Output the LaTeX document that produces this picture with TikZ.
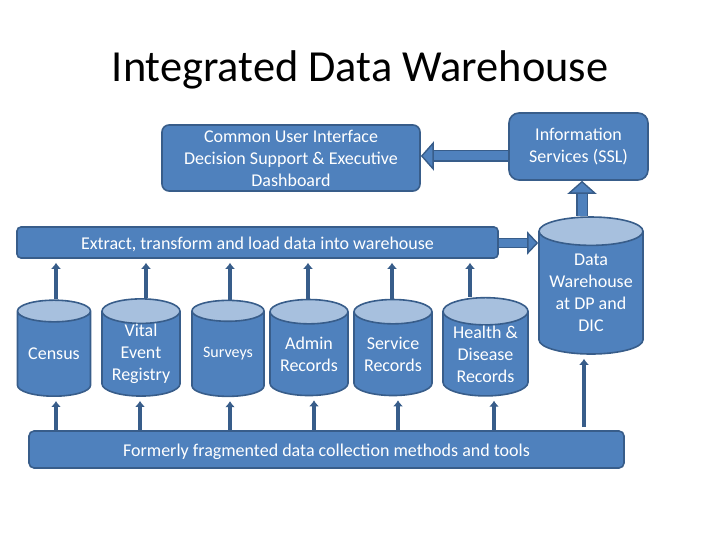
\documentclass[tikz,border=0pt]{standalone}
\usepackage{fontspec}
\setmainfont{Carlito}
\usetikzlibrary{positioning,shapes.geometric,arrows.meta}
\definecolor{mainblue}{HTML}{4F81BD}
\definecolor{darkblue}{HTML}{385D8A}
\definecolor{topblue}{HTML}{A7C0DE}

\begin{document}
\begin{tikzpicture}[
  x=1pt, y=-1pt,
  font=\fontsize{18}{22}\selectfont,
  panel/.style={rectangle, draw=darkblue, line width=1.6pt, rounded corners=7pt, fill=mainblue, text=white, align=center, inner sep=0pt, execute at begin node={\rule{0pt}{17pt}}},
  store/.style={cylinder, shape border rotate=90, draw=darkblue, line width=1.6pt, cylinder uses custom fill, cylinder body fill=mainblue, cylinder end fill=topblue, shape aspect=0.42, text=white, align=center, inner sep=0pt, minimum height=96pt, minimum width=73pt},
  arrow/.style={-{Latex[length=6pt,width=10pt]},draw=darkblue,line width=3.2pt,shorten >=4pt},
  bigarrow/.style={-{Triangle[length=13pt,width=29pt,fill=mainblue]},draw=darkblue,line width=1.4pt,double=mainblue,double distance=9pt}
]
  \useasboundingbox (0,0) rectangle (720,540);

  \node[text=black, font=\fontsize{44.4}{52}\selectfont] (title) at (360,70) {Integrated Data Warehouse};

  \node[panel, minimum width=258pt, minimum height=66pt, execute at begin node={\rule{0pt}{15pt}}] (common) at (291,158) {Common User Interface\\Decision Support \& Executive\\Dashboard};
  \node[panel, minimum width=139pt, minimum height=67pt, rounded corners=10pt] (info) at (578.5,146.5) {Information\\Services (SSL)};
  \node[panel, minimum width=481pt, minimum height=31pt, rounded corners=4pt] (extract) at (257.5,242.5) {Extract, transform and load data into warehouse};
  \node[panel, minimum width=595pt, minimum height=37pt, rounded corners=5pt] (former) at (326.5,449.5) {Formerly fragmented data collection methods and tools};

  \node[store] (census) at (54,354) {Census};
  \node[store, minimum width=78pt] (vital) at (141,354) {Vital\\Event\\Registry};
  \node[store, minimum width=72pt, font=\fontsize{16}{18}\selectfont] (surveys) at (228,354) {Surveys};
  \node[store, minimum width=78pt] (admin) at (309,354) {Admin\\Records};
  \node[store, minimum width=78pt] (service) at (393,354) {Service\\Records};
  \node[store, minimum width=85pt] (health) at (485.5,354) {Health \&\\Disease\\Records};
  \node[store, minimum width=104pt, minimum height=137pt, shape aspect=0.34] (dw) at (591,293) {Data\\Warehouse\\at DP and\\DIC};

  \coordinate (gap) at (584,427);

  \foreach \name/\xpos in {census/56,vital/146,surveys/230,admin/308,service/392,health/470}
    \draw[arrow] (\name.north -| \xpos,0) -- (extract.south -| \xpos,0);
  \foreach \name/\xpos in {census/56,vital/140,surveys/230,admin/314,service/398,health/494}
    \draw[arrow] (former.north -| \xpos,0) -- (\name.south -| \xpos,0);
  \draw[arrow] (gap) -- (dw.south -| gap);

  \draw[bigarrow] (info.west |- 0,156) -- (common.east |- 0,156);
  \draw[bigarrow] (dw.north -| 582,0) -- (info.south -| 582,0);
  \draw[bigarrow, double distance=7.5pt, -{Triangle[length=11pt,width=23pt,fill=mainblue]}] (extract.east |- 0,243) -- (dw.west |- 0,243);
\end{tikzpicture}
\end{document}
